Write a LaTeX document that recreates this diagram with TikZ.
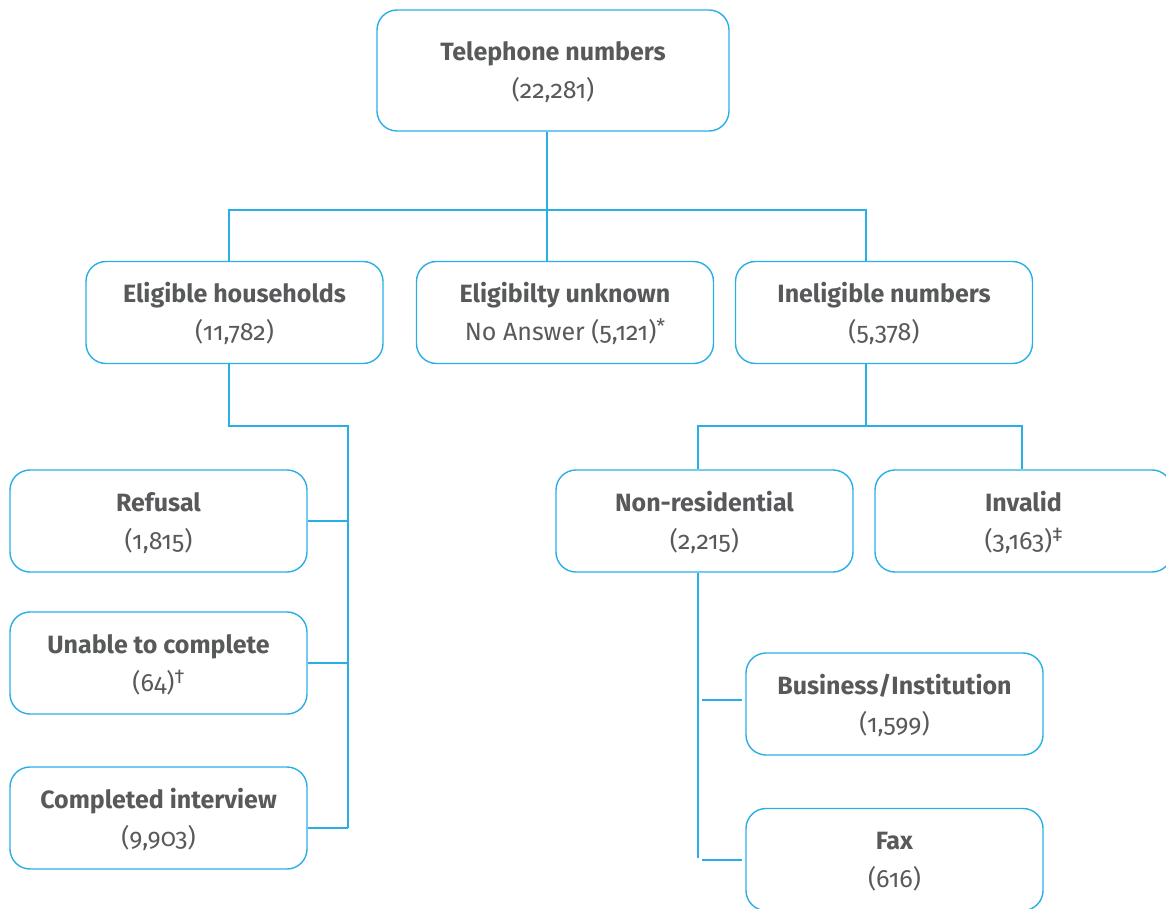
\documentclass[tikz,border=0pt]{standalone}
\usepackage{fontspec}
\setmainfont{Fira Sans}[Numbers=OldStyle]
\usetikzlibrary{calc}
\definecolor{bl}{HTML}{29AEE6}
\definecolor{tx}{HTML}{58595B}
\tikzset{
  box/.style={draw=bl, line width=1.4pt, rounded corners=20pt, minimum width=297pt, minimum height=102pt,
    align=center, text=tx, font=\fontsize{25}{38}\selectfont, inner sep=0pt},
  conn/.style={draw=bl, line width=1.4pt}
}
\newcommand{\ttl}[1]{\rule{0pt}{24pt}\textbf{#1}}
\newcommand{\secline}[1]{#1\rule[-6pt]{0pt}{0pt}}
\newcommand{\fnm}[1]{\raisebox{0.3em}{\fontsize{20}{20}\selectfont #1}}
\begin{document}
\begin{tikzpicture}[x=1pt,y=-1pt]
\useasboundingbox (0,0) rectangle (1166,909);
\node[box, minimum width=352pt, minimum height=121pt] (top) at (553,70.5) {\ttl{Telephone numbers}\\\secline{(22,281)}};
\node[box] (elig) at (234.5,312.5) {\ttl{Eligible households}\\\secline{(11,782)}};
\node[box] (unk) at (565,312.5) {\ttl{Eligibilty unknown}\\\secline{No Answer (5,121)\fnm{*}}};
\node[box] (inel) at (884,312.5) {\ttl{Ineligible numbers}\\\secline{(5,378)}};
\node[box] (ref) at (158.5,521) {\ttl{Refusal}\\\secline{(1,815)}};
\node[box] (unab) at (158.5,663) {\ttl{Unable to complete}\\\secline{(64)\fnm{†}}};
\node[box] (comp) at (158.5,818) {\ttl{Completed interview}\\\secline{(9,903)}};
\node[box] (nonres) at (704.5,521) {\ttl{Non-residential}\\\secline{(2,215)}};
\node[box] (inv) at (1023.5,521) {\ttl{Invalid}\\\secline{(3,163)\fnm{‡}}};
\node[box] (bus) at (894.5,704) {\ttl{Business/Institution}\\\secline{(1,599)}};
\node[box] (fax) at (894.5,859.5) {\ttl{Fax}\\\secline{(616)}};
% top level
\coordinate (j1) at (547,210);
\draw[conn] (top.south -| j1) -- (j1);
\draw[conn] (elig.north -| 229,0) -- (229,210) -- (866,210) -- (inel.north -| 866,0);
\draw[conn] (j1) -- (unk.north -| j1);
% eligible
\coordinate (j2) at (348,426);
\draw[conn] (elig.south -| 229,0) -- (229,426) -- (j2) -- (348,828);
\draw[conn] (ref.east) -- (ref.east -| j2);
\draw[conn] (unab.east) -- (unab.east -| j2);
\draw[conn] (comp.east |- 0,828) -- (348,828);
% ineligible
\draw[conn] (inel.south -| 866,0) -- (866,426);
\draw[conn] (nonres.north -| 698,0) -- (698,426) -- (1022,426) -- (inv.north -| 1022,0);
% non-residential
\draw[conn] (nonres.south -| 698,0) -- (698,858);
\coordinate (s1) at (702,700);
\coordinate (s2) at (702,860);
\draw[conn] (s1) -- ($(bus.west |- s1)+(-3,0)$);
\draw[conn] (s2) -- ($(fax.west |- s2)+(-3,0)$);
\end{tikzpicture}
\end{document}
